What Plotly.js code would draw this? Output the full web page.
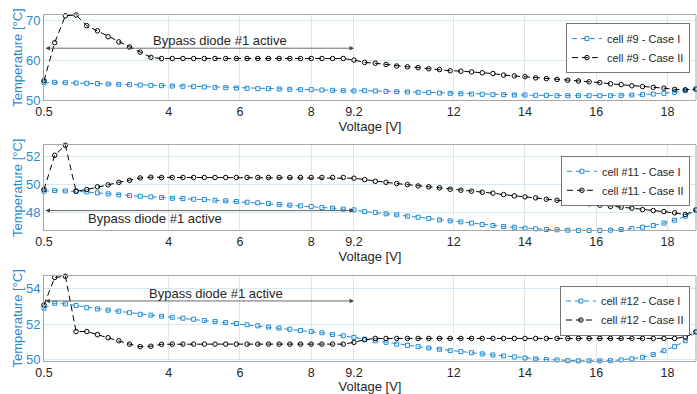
<!DOCTYPE html>
<html><head><meta charset="utf-8">
<script src="https://cdn.plot.ly/plotly-3.0.1.min.js"></script>
<style>html,body{margin:0;padding:0;background:#fff}</style>
</head><body><div id="chart" style="width:697px;height:394px"></div>
<script>
const voltage = [0.5,0.8,1.1,1.4,1.7,2.0,2.3,2.6,2.9,3.2,3.5,3.8,4.1,4.4,4.7,5.0,5.3,5.6,5.9,6.2,6.5,6.8,7.1,7.4,7.7,8.0,8.3,8.6,8.9,9.2,9.5,9.8,10.1,10.4,10.7,11.0,11.3,11.6,11.9,12.2,12.5,12.8,13.1,13.4,13.7,14.0,14.3,14.6,14.9,15.2,15.5,15.8,16.1,16.4,16.7,17.0,17.3,17.6,17.9,18.2,18.5,18.8];

const cell9CaseI = [54.39,54.47,54.39,54.30,54.22,54.13,54.05,53.97,53.88,53.80,53.71,53.63,53.54,53.46,53.38,53.29,53.21,53.12,53.04,52.95,52.87,52.87,52.78,52.70,52.62,52.62,52.53,52.45,52.36,52.30,
  52.36,52.28,52.19,52.11,52.03,51.94,51.86,51.77,51.69,51.60,51.52,51.44,51.35,51.35,51.27,51.27,51.18,51.18,51.10,51.10,51.10,51.10,51.10,51.10,51.18,51.27,51.35,51.52,51.69,51.94,52.36,52.70];
const cell9CaseII = [54.9,64.5,71.3,71.5,68.8,67.5,66.0,64.7,63.4,62.1,60.8,60.5,60.5,60.5,60.5,60.5,60.5,60.5,60.5,60.5,60.5,60.5,60.5,60.5,60.5,60.5,60.5,60.5,60.5,60.1,
  59.5,59.3,59.0,58.6,58.4,58.2,57.9,57.7,57.4,57.3,57.1,56.9,56.7,56.3,56.1,55.9,55.6,55.4,55.2,55.0,54.8,54.6,54.4,54.1,53.9,53.6,53.4,53.2,53.0,52.7,52.6,52.8];

const cell11CaseI = [49.53,49.58,49.55,49.53,49.48,49.41,49.34,49.27,49.22,49.17,49.13,49.08,49.03,49.01,48.96,48.94,48.89,48.85,48.80,48.75,48.71,48.66,48.59,48.54,48.49,48.45,48.37,48.33,48.26,48.21,
  48.09,48.02,47.93,47.86,47.76,47.69,47.60,47.50,47.43,47.36,47.27,47.17,47.10,47.03,46.98,46.91,46.87,46.82,46.80,46.77,46.75,46.75,46.75,46.77,46.82,46.89,46.98,47.10,47.27,47.48,47.76,48.19];
const cell11CaseII = [49.65,52.07,52.78,49.53,49.65,49.84,49.98,50.16,50.30,50.47,50.52,50.5,50.5,50.5,50.5,50.5,50.5,50.5,50.5,50.5,50.5,50.5,50.5,50.5,50.5,50.5,50.5,50.5,50.5,50.45,
  50.35,50.23,50.16,50.07,50.00,49.90,49.84,49.77,49.67,49.60,49.53,49.46,49.39,49.29,49.20,49.13,49.06,48.96,48.89,48.82,48.73,48.64,48.54,48.45,48.40,48.33,48.23,48.16,48.09,48.00,47.88,48.21];

const cell12CaseI = [52.89,53.17,53.13,53.04,52.92,52.85,52.78,52.72,52.64,52.55,52.50,52.44,52.38,52.33,52.27,52.20,52.14,52.08,52.03,51.96,51.90,51.83,51.77,51.71,51.64,51.58,51.51,51.41,51.34,51.25,
  51.15,51.06,50.97,50.87,50.80,50.73,50.65,50.58,50.50,50.45,50.39,50.32,50.26,50.21,50.15,50.09,50.04,50.00,49.98,49.94,49.93,49.93,49.93,49.94,49.98,50.04,50.13,50.28,50.50,50.73,51.06,51.55];
const cell12CaseII = [53.07,54.62,54.69,51.58,51.58,51.40,51.23,51.06,50.87,50.73,50.75,50.86,50.87,50.87,50.87,50.87,50.87,50.87,50.87,50.87,50.87,50.87,50.87,50.87,50.87,50.87,50.87,50.87,50.87,50.97,
  51.12,51.19,51.19,51.19,51.19,51.19,51.19,51.19,51.19,51.19,51.19,51.19,51.19,51.19,51.19,51.19,51.19,51.19,51.19,51.19,51.19,51.19,51.19,51.19,51.19,51.19,51.19,51.19,51.19,51.19,51.27,51.56];

const xTickVals = [0.5,4,6,8,9.2,12,14,16,18];
const xTickText = ['0.5','4','6','8','9.2','12','14','16','18'];
const yTicks1 = [50,60,70];
const yTicks2 = [48,50,52];
const yTicks3 = [50,52,54];
const seriesNames = [['cell #9 - Case I','cell #9 - Case II'],['cell #11 - Case I','cell #11 - Case II'],['cell #12 - Case I','cell #12 - Case II']];
const annotationText = 'Bypass diode #1 active';

const BLUE = '#1f8dd6';
const BLACK = '#000000';
const AXBLUE = '#2b8ad0';
const FONT = 'Liberation Sans, Arial, Helvetica, sans-serif';

function caseI(y, name, ax, leg) {
  return {x: voltage, y: y, name: name, type: 'scatter', mode: 'lines+markers',
    xaxis: ax[0], yaxis: ax[1], legend: leg, cliponaxis: false,
    line: {color: BLUE, width: 1, dash: '5px,4px'},
    marker: {symbol: 'square-open', size: 4, color: BLUE, line: {width: 1, color: BLUE}}};
}
function caseII(y, name, ax, leg) {
  return {x: voltage, y: y, name: name, type: 'scatter', mode: 'lines+markers',
    xaxis: ax[0], yaxis: ax[1], legend: leg, cliponaxis: false,
    line: {color: BLACK, width: 1, dash: '6px,4px'},
    marker: {symbol: 'circle-open', size: 4.5, color: BLACK, line: {width: 1, color: BLACK}}};
}

const data = [
  caseI(cell9CaseI, seriesNames[0][0], ['x','y'], 'legend'),
  caseII(cell9CaseII, seriesNames[0][1], ['x','y'], 'legend'),
  caseI(cell11CaseI, seriesNames[1][0], ['x2','y2'], 'legend2'),
  caseII(cell11CaseII, seriesNames[1][1], ['x2','y2'], 'legend2'),
  caseI(cell12CaseI, seriesNames[2][0], ['x3','y3'], 'legend3'),
  caseII(cell12CaseII, seriesNames[2][1], ['x3','y3'], 'legend3')
];

function xax(anchor) {
  return {anchor: anchor, range: [0.5, 18.8], tickmode: 'array', tickvals: xTickVals, ticktext: xTickText,
    showgrid: true, gridcolor: '#e4e4e4', gridwidth: 1, zeroline: false,
    showline: true, linecolor: '#a8a8a8', linewidth: 1, mirror: true, ticks: '',
    tickfont: {family: FONT, size: 12.5, color: '#262626'}, automargin: false,
    title: {text: 'Voltage [V]', font: {family: FONT, size: 13, color: '#262626'}, standoff: 2}};
}
function yax(anchor, domain, range, ticks) {
  return {anchor: anchor, domain: domain, range: range, tickmode: 'array', tickvals: ticks,
    showgrid: true, gridcolor: '#d8e9f6', gridwidth: 1, zeroline: false,
    showline: true, linecolor: '#6ab0e0', linewidth: 1, mirror: false, ticks: '',
    tickfont: {family: FONT, size: 13, color: AXBLUE}, automargin: false,
    title: {text: 'Temperature [°C]', font: {family: FONT, size: 13, color: AXBLUE}, standoff: 0}};
}
function legendAt(y) {
  return {x: 0.991, y: y, xanchor: 'right', yanchor: 'top', bgcolor: '#ffffff',
    bordercolor: '#555555', borderwidth: 0.8, font: {family: FONT, size: 11, color: '#262626'},
    tracegroupgap: 0, itemwidth: 30};
}
function arrow(xr, yr, yv) {
  return {xref: xr, yref: yr, axref: xr, ayref: yr, x: 9.2, y: yv, ax: 0.5, ay: yv, text: '',
    showarrow: true, arrowhead: 2, arrowside: 'end+start', arrowsize: 1.1, arrowwidth: 0.8, arrowcolor: '#444444'};
}
function label(xr, yr, xv, yv) {
  return {xref: xr, yref: yr, x: xv, y: yv, text: annotationText, showarrow: false,
    font: {family: FONT, size: 13, color: '#262626'}};
}
function rightEdge(xr, yr) {
  return {type: 'line', xref: xr + ' domain', yref: yr + ' domain', x0: 1, x1: 1, y0: 0, y1: 1,
    line: {color: '#a8a8a8', width: 1}};
}

const layout = {
  width: 697, height: 394,
  margin: {l: 43.5, r: 1, t: 15, b: 33},
  paper_bgcolor: '#ffffff', plot_bgcolor: '#ffffff',
  font: {family: FONT},
  showlegend: true,
  xaxis: xax('y'), xaxis2: xax('y2'), xaxis3: xax('y3'),
  yaxis: yax('x', [0.7543, 1], [50, 71.5], yTicks1),
  yaxis2: yax('x2', [0.3772, 0.6243], [46.75, 52.8], yTicks2),
  yaxis3: yax('x3', [0, 0.2465], [49.92, 54.72], yTicks3),
  legend: legendAt(0.976), legend2: legendAt(0.5925), legend3: legendAt(0.2176),
  annotations: [
    arrow('x','y',63.1), label('x','y',5.43,65.0),
    arrow('x2','y2',48.16), label('x2','y2',3.62,47.58),
    arrow('x3','y3',53.3), label('x3','y3',5.33,53.73)
  ],
  shapes: [rightEdge('x','y'), rightEdge('x2','y2'), rightEdge('x3','y3')]
};

Plotly.newPlot('chart', data, layout, {displayModeBar: false, staticPlot: true});
</script></body></html>
